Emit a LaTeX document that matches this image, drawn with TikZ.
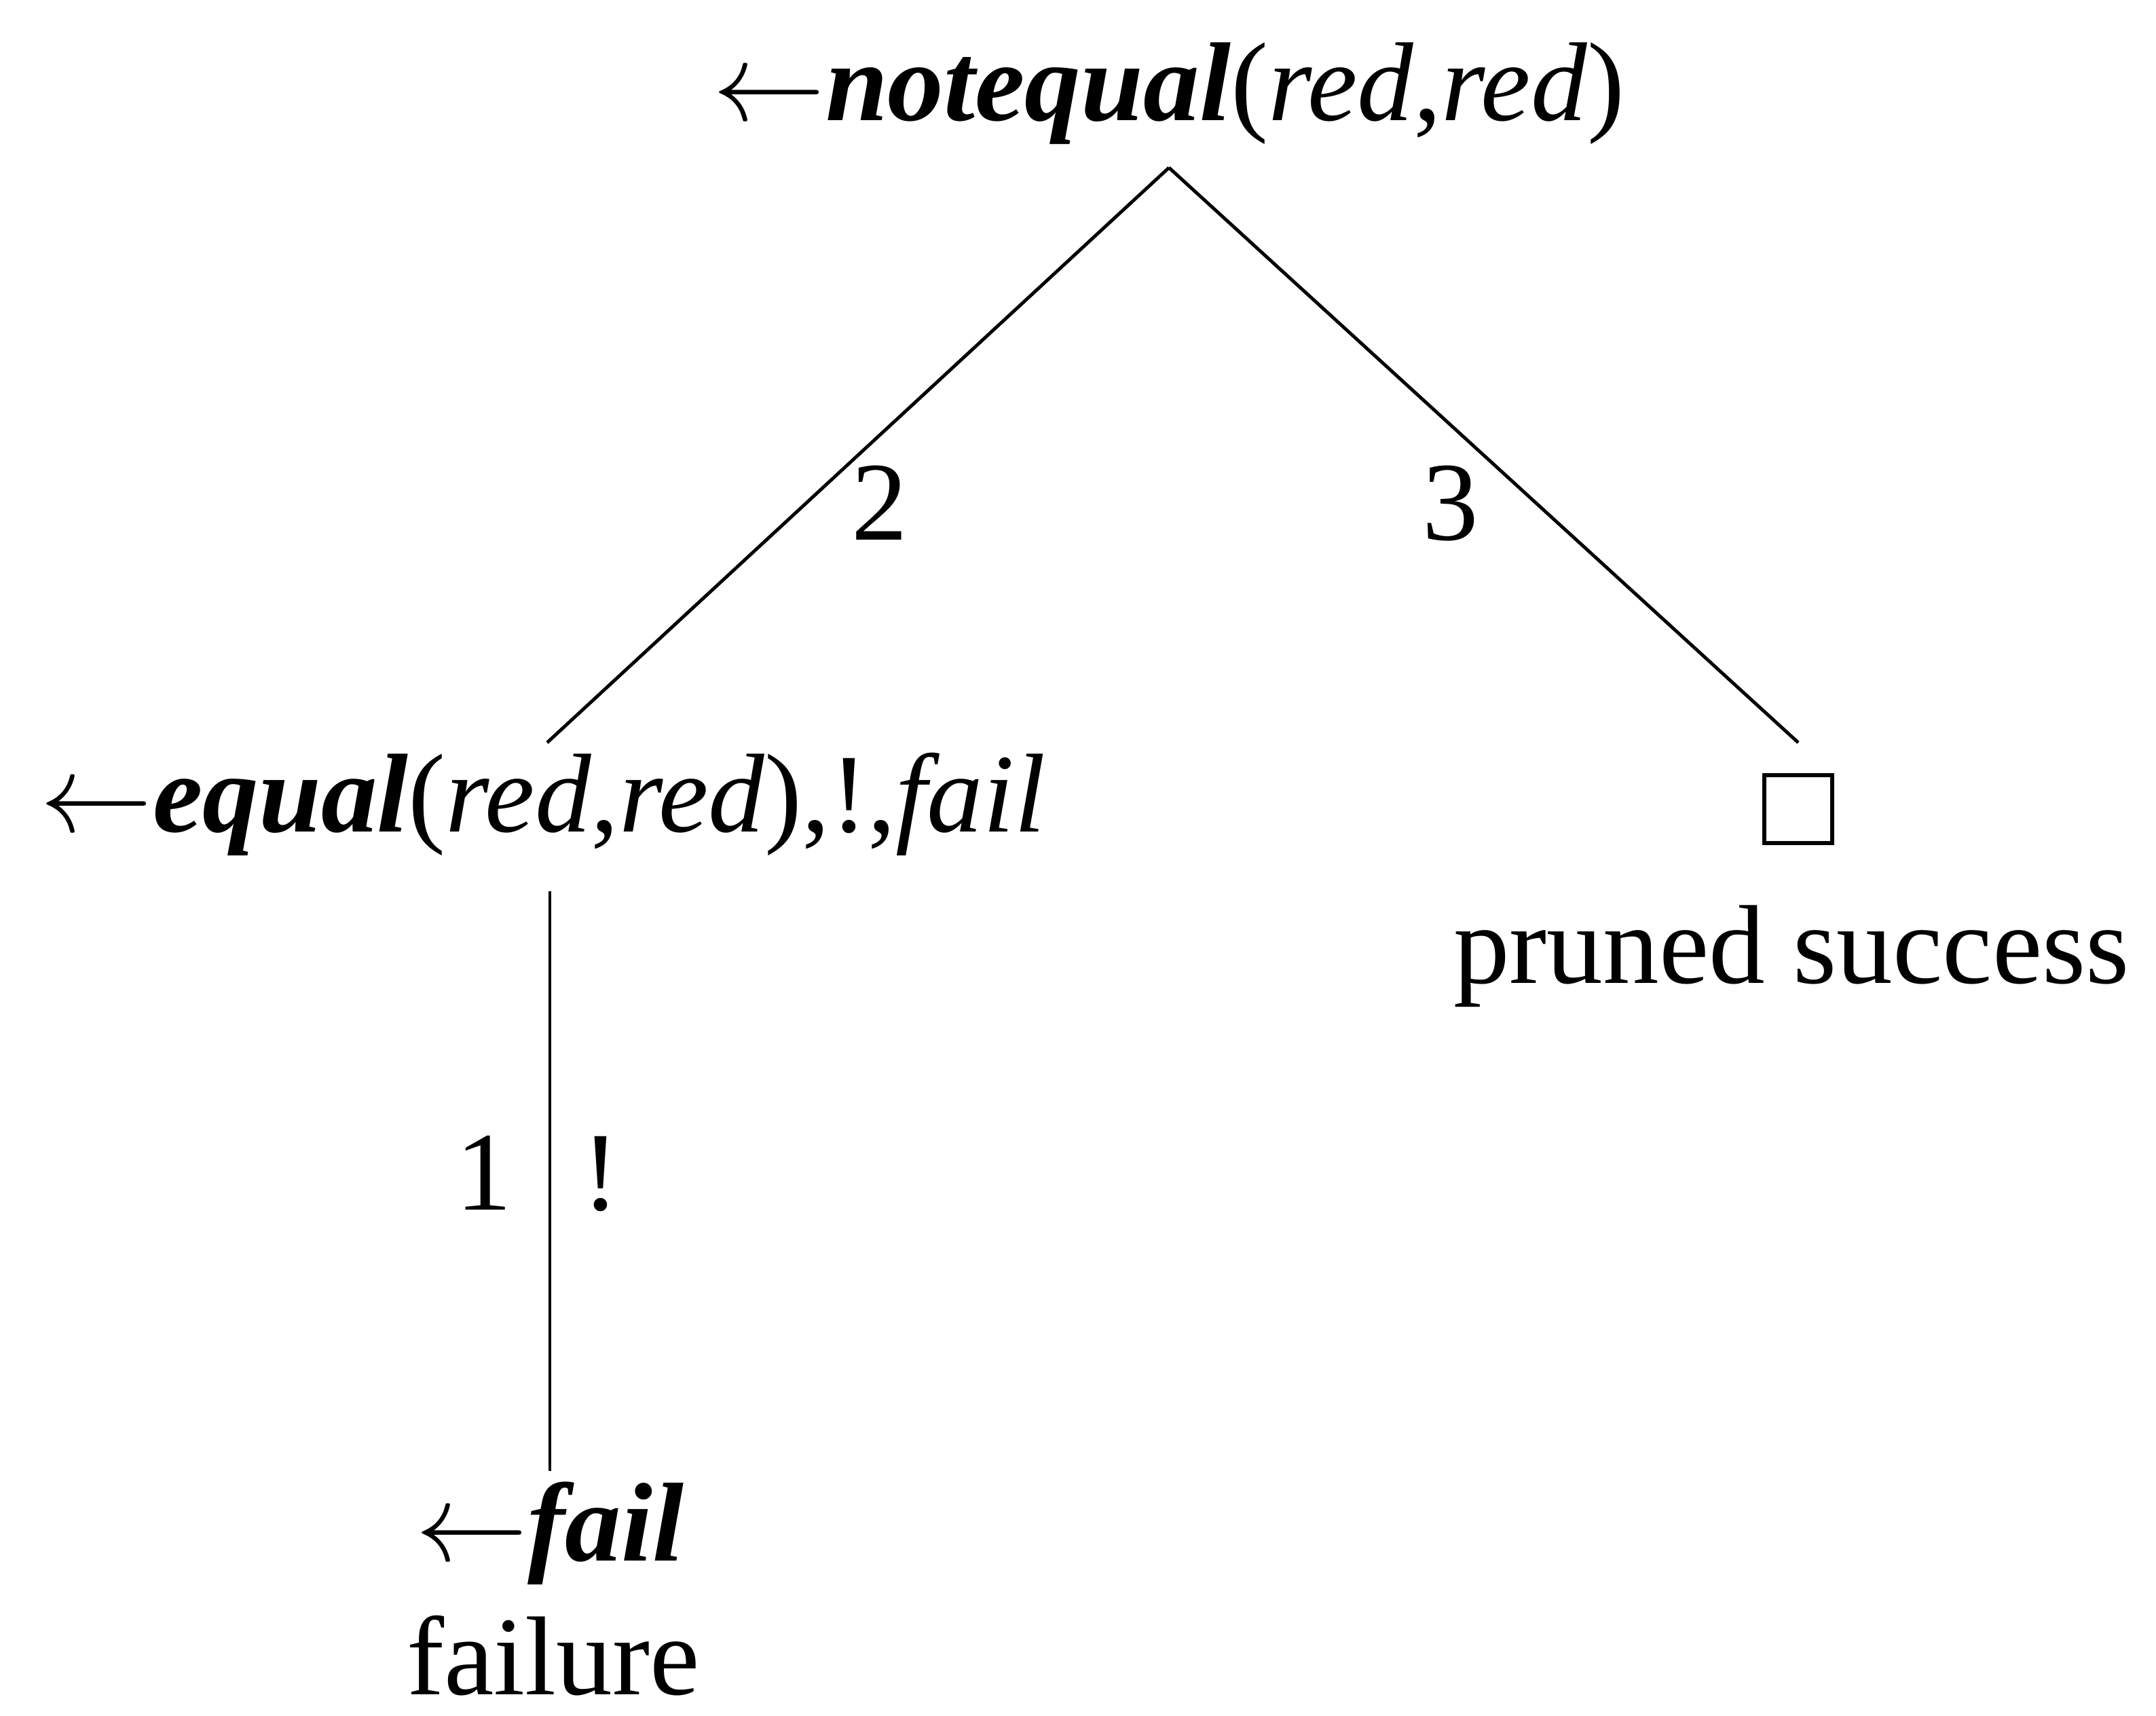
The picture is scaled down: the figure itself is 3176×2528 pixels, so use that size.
\RequirePackage{fix-cm}
\documentclass[tikz,border=0pt]{standalone}
\usepackage{fontspec}
\setmainfont{Liberation Serif}
\begin{document}
\begin{tikzpicture}[x=0.01cm,y=-0.01cm,
  lbl/.style={inner sep=0pt, anchor=base, font=\fontsize{47}{56}\selectfont},
  edge/.style={line width=1.4pt},
  goal/.style={draw, line width=1.8pt, inner sep=0pt, minimum width=1.0cm, minimum height=1.0cm}]
\useasboundingbox (0,0) rectangle (3176,2528);
% nodes
\node[lbl] (top) at (1722,178) {$\leftarrow$\textbf{\textit{notequal}}(\textit{red},\textit{red})};
\node[lbl] (left) at (800,1225) {$\leftarrow$\textbf{\textit{equal}}(\textit{red},\textit{red}),!,\textit{fail}};
\node[goal] (box) at (2649,1192) {};
\node[lbl] (pruned) at (2639,1448) {pruned success};
\node[lbl] (fail) at (810,2299) {$\leftarrow$\textbf{\textit{fail}}};
\node[lbl] (failure) at (815,2496) {failure};
% connector end points
\coordinate (apex) at (1722,247);
\coordinate (lend) at (806,1094);
\coordinate (rend) at (2649,1094);
\coordinate (vtop) at (810,1313);
\coordinate (vbot) at (810,2167);
% connectors
\draw[edge] (apex) -- (lend);
\draw[edge] (apex) -- (rend);
\draw[edge] (vtop) -- (vbot);
% edge labels
\node[lbl] (l2) at (1296,795) {2};
\node[lbl] (l3) at (2137,795) {3};
\node[lbl] (l1) at (713,1782) {1};
\node[lbl] (lcut) at (885,1782) {!};
\end{tikzpicture}
\end{document}
